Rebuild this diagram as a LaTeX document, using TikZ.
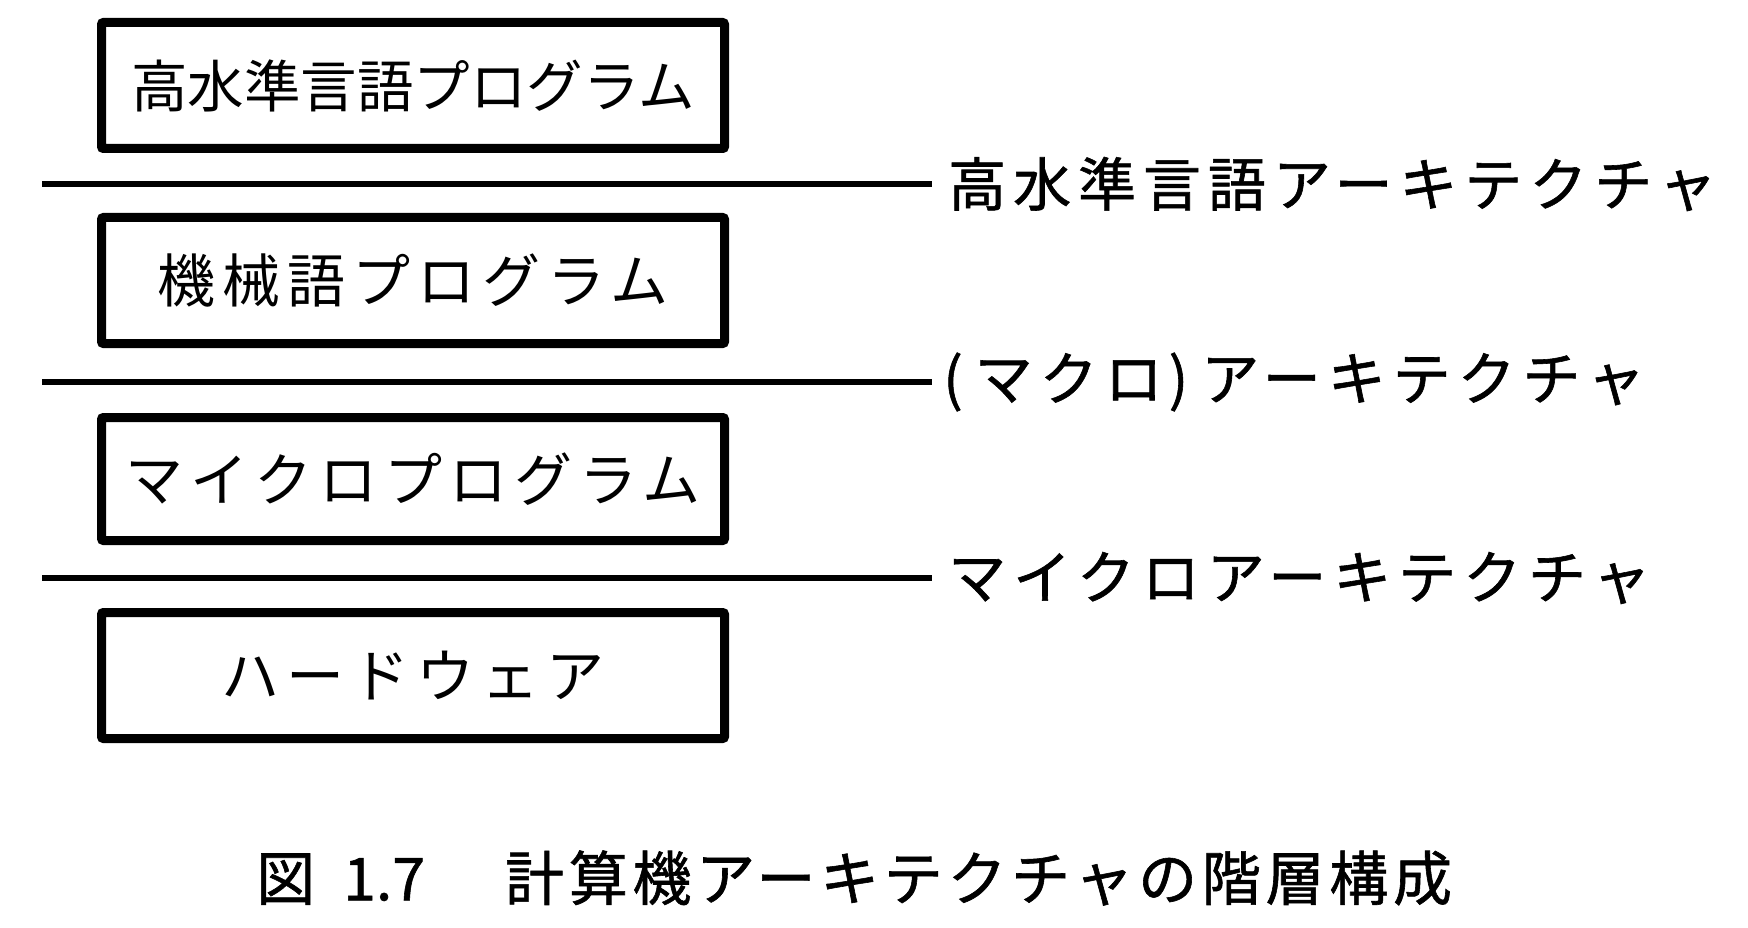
\documentclass[tikz,border=0pt]{standalone}
\usepackage{fontspec}
\newfontfamily\jp[LetterSpace=12]{Noto Sans CJK JP}
\newfontfamily\jpb[LetterSpace=12,FakeBold=1]{Noto Sans CJK JP}
\newfontfamily\jpn{Noto Sans CJK JP}
\newfontfamily\jpnb[FakeBold=1]{Noto Sans CJK JP}
\newfontfamily\jpc[LetterSpace=8,FakeBold=1]{Noto Sans CJK JP}
\begin{document}
\begin{tikzpicture}[x=1pt,y=-1pt,
  layerbox/.style={draw, line width=9pt, minimum width=623pt, minimum height=126pt,
    inner sep=0pt, rounded corners=2pt, font=\jp\fontsize{58}{60}\selectfont},
  sepline/.style={line width=6pt},
  archlabel/.style={anchor=west, inner sep=0pt, font=\jpb\fontsize{58}{60}\selectfont}]
\fill[white] (0,0) rectangle (1748,928);
\useasboundingbox (0,0) rectangle (1748,928);

\node[layerbox, font=\jpn\fontsize{56.5}{60}\selectfont] (hll) at (413,85.5) {高水準言語プログラム};
\node[layerbox] (ml) at (413,280.5) {機械語プログラム};
\node[layerbox, minimum height=123pt] (mp) at (413,479) {マイクロプログラム};
\node[layerbox] (hw) at (413,675.5) {ハードウェア};

\coordinate (s1a) at (42,184);  \coordinate (s1b) at (932,184);
\coordinate (s2a) at (42,382);  \coordinate (s2b) at (932,382);
\coordinate (s3a) at (42,578);  \coordinate (s3b) at (932,578);
\draw[sepline] (s1a) -- (s1b);
\draw[sepline] (s2a) -- (s2b);
\draw[sepline] (s3a) -- (s3b);

\node[archlabel] (a1) at (948,184) {高水準言語アーキテクチャ};
\node[archlabel] (a2) at (943,382) {(\hspace{12pt}マクロ\hspace{6pt})\hspace{13pt}アーキテクチャ};
\node[archlabel] (a3) at (948,578) {マイクロアーキテクチャ};

\node[anchor=west, inner sep=0pt, font=\jpc\fontsize{59}{62}\selectfont] (cap) at (256,878)
  {図\hspace{28pt}{\jpnb 1.7}\hspace{80pt}計算機アーキテクチャの階層構成};
\end{tikzpicture}
\end{document}
